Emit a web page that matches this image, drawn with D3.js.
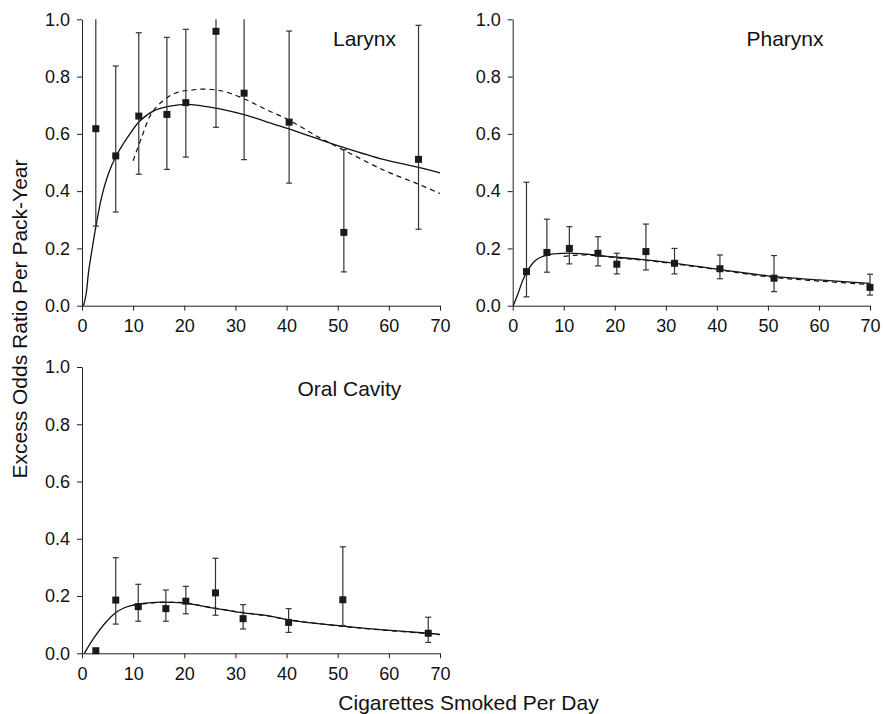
<!DOCTYPE html>
<html>
<head>
<meta charset="utf-8">
<script src="https://cdn.jsdelivr.net/npm/d3@7"></script>
<style>
  body { margin: 0; background: #fff; }
  svg { display: block; font-family: Arial, "Liberation Sans", sans-serif; }
</style>
</head>
<body>
<svg id="chart" width="883" height="714"></svg>
<script>
// cigarettes per day categories and excess odds ratio per pack-year
var larynxX = [2.7, 6.6, 11.1, 16.6, 20.3, 26.2, 31.7, 40.5, 51.2, 65.8];
var larynxY = [0.618, 0.523, 0.662, 0.668, 0.709, 0.958, 0.742, 0.641, 0.256, 0.511];
var larynxLo = [0.278, 0.327, 0.459, 0.476, 0.519, 0.623, 0.510, 0.428, 0.118, 0.267];
var larynxHi = [1.10, 0.837, 0.953, 0.937, 0.965, 1.10, 1.10, 0.959, 0.545, 0.979];

var pharynxX = [2.7, 6.7, 11.1, 16.7, 20.4, 26.1, 31.7, 40.6, 51.2, 70.0];
var pharynxY = [0.119, 0.186, 0.200, 0.183, 0.145, 0.189, 0.148, 0.129, 0.096, 0.064];
var pharynxLo = [0.031, 0.117, 0.146, 0.139, 0.111, 0.125, 0.111, 0.094, 0.049, 0.037];
var pharynxHi = [0.431, 0.302, 0.276, 0.241, 0.183, 0.285, 0.200, 0.177, 0.175, 0.110];

var oralX = [2.7, 6.6, 11.0, 16.4, 20.3, 26.1, 31.5, 40.4, 51.0, 67.7];
var oralY = [0.009, 0.186, 0.163, 0.156, 0.182, 0.211, 0.121, 0.108, 0.187, 0.070];
var oralLo = [0.009, 0.102, 0.112, 0.112, 0.138, 0.133, 0.085, 0.073, 0.097, 0.038];
var oralHi = [0.009, 0.334, 0.241, 0.221, 0.234, 0.332, 0.170, 0.156, 0.372, 0.126];

// fitted curves (solid and dashed)
var larynxSolid = [[0.3, 0], [0.8, 0.04], [1.3, 0.12], [2, 0.2], [2.7, 0.275], [3.85, 0.38], [5.15, 0.46],
  [6.6, 0.52], [9, 0.59], [11.3, 0.645], [14.3, 0.683], [17.5, 0.698], [20.2, 0.703], [23.4, 0.698],
  [26.7, 0.688], [31.9, 0.666], [35.8, 0.644], [40.5, 0.617], [45.9, 0.584], [51.1, 0.553],
  [58.9, 0.511], [65.8, 0.483], [70, 0.464]];
var larynxDash = [[10, 0.506], [11.7, 0.59], [13.6, 0.672], [15.6, 0.712], [18.2, 0.742], [21.4, 0.753],
  [24.7, 0.756], [28, 0.747], [32, 0.72], [36, 0.685], [40.5, 0.648], [45.9, 0.592], [51.1, 0.544],
  [58.9, 0.474], [65.4, 0.427], [70, 0.392]];

var pharynxSolid = [[0.1, 0], [1, 0.04], [2, 0.09], [3, 0.125], [4, 0.15], [5, 0.165], [6.7, 0.176],
  [8, 0.181], [10, 0.183], [12, 0.183], [15, 0.179], [20, 0.17], [25, 0.162], [30, 0.152],
  [40, 0.128], [50, 0.104], [60, 0.09], [70, 0.078]];
var pharynxDash = [[10, 0.172], [12, 0.176], [15, 0.177], [20, 0.168], [25, 0.16], [30, 0.15],
  [40, 0.126], [50, 0.101], [60, 0.086], [70, 0.074]];

var oralSolid = [[0.45, 0], [2.5, 0.058], [4.5, 0.105], [6.45, 0.14], [8.4, 0.16], [10.7, 0.171],
  [14.3, 0.178], [17.5, 0.178], [20.1, 0.175], [26, 0.157], [31.2, 0.142], [36.8, 0.13],
  [40.5, 0.116], [51, 0.095], [59.6, 0.081], [67.7, 0.07], [70, 0.066]];
var oralDash = [[10, 0.168], [14.3, 0.177], [17.5, 0.178], [20.1, 0.176], [26, 0.158], [31.2, 0.143],
  [36.8, 0.129], [40.5, 0.117], [51, 0.094], [59.6, 0.08], [67.7, 0.069], [70, 0.065]];

var xTicks = [0, 10, 20, 30, 40, 50, 60, 70];
var yTicks = [0, 0.2, 0.4, 0.6, 0.8, 1.0];

var panels = [
  { name: "Larynx", x: larynxX, y: larynxY, lo: larynxLo, hi: larynxHi, solid: larynxSolid, dash: larynxDash,
    left: 82, right: 440, top: 19.3, bottom: 305.7, tx: 333, ty: 45.7 },
  { name: "Pharynx", x: pharynxX, y: pharynxY, lo: pharynxLo, hi: pharynxHi, solid: pharynxSolid, dash: pharynxDash,
    left: 512.7, right: 870, top: 19.3, bottom: 305.7, tx: 746.5, ty: 45.7 },
  { name: "Oral Cavity", x: oralX, y: oralY, lo: oralLo, hi: oralHi, solid: oralSolid, dash: oralDash,
    left: 82, right: 440, top: 367, bottom: 653.3, tx: 297.5, ty: 395.7 }
];

var svg = d3.select("#chart");

function drawPanel(p) {
    var xScale = d3.scaleLinear().domain([0, 70]).range([p.left, p.right]);
    var yScale = d3.scaleLinear().domain([0, 1]).range([p.bottom, p.top]);

    var g = svg.append("g");

    var xAxis = g.append("g")
        .attr("transform", "translate(0," + p.bottom + ")")
        .call(d3.axisBottom(xScale).tickValues(xTicks).tickFormat(d3.format("d"))
            .tickSize(5).tickSizeOuter(0).tickPadding(8.5));
    var yAxis = g.append("g")
        .attr("transform", "translate(" + p.left + ",0)")
        .call(d3.axisLeft(yScale).tickValues(yTicks).tickFormat(d3.format(".1f"))
            .tickSize(5).tickSizeOuter(0).tickPadding(7));

    [xAxis, yAxis].forEach(function (a) {
        a.selectAll("text").style("font-size", "18px").style("font-family", "Arial, 'Liberation Sans', sans-serif").attr("fill", "#111");
        a.selectAll("line").attr("stroke", "#222");
        a.select(".domain").attr("stroke", "#222");
    });

    var line = d3.line()
        .x(d => xScale(d[0]))
        .y(d => yScale(d[1]))
        .curve(d3.curveCatmullRom.alpha(0.5));

    g.append("path")
        .attr("d", line(p.dash))
        .attr("fill", "none")
        .attr("stroke", "#111")
        .attr("stroke-width", 1.2)
        .attr("stroke-dasharray", "5,4");

    g.append("path")
        .attr("d", line(p.solid))
        .attr("fill", "none")
        .attr("stroke", "#111")
        .attr("stroke-width", 1.3);

    // error bars, clipped at the top of the axis
    for (var i = 0; i < p.x.length; i++) {
        var cx = xScale(p.x[i]);
        var hi = Math.min(p.hi[i], 1);
        if (p.hi[i] - p.lo[i] < 0.001) continue;
        g.append("line")
            .attr("x1", cx).attr("x2", cx)
            .attr("y1", yScale(p.lo[i])).attr("y2", yScale(hi))
            .attr("stroke", "#333").attr("stroke-width", 1.2);
        g.append("line")
            .attr("x1", cx - 3).attr("x2", cx + 3)
            .attr("y1", yScale(p.lo[i])).attr("y2", yScale(p.lo[i]))
            .attr("stroke", "#333").attr("stroke-width", 1.2);
        if (p.hi[i] <= 1) {
            g.append("line")
                .attr("x1", cx - 3).attr("x2", cx + 3)
                .attr("y1", yScale(hi)).attr("y2", yScale(hi))
                .attr("stroke", "#333").attr("stroke-width", 1.2);
        }
    }

    g.selectAll("rect.pt")
        .data(p.x.map((v, i) => [v, p.y[i]]))
        .enter().append("rect")
        .attr("class", "pt")
        .attr("x", d => xScale(d[0]) - 3.5)
        .attr("y", d => yScale(d[1]) - 3.5)
        .attr("width", 7)
        .attr("height", 7)
        .attr("fill", "#1a1a1a");

    g.append("text")
        .attr("x", p.tx)
        .attr("y", p.ty)
        .style("font-size", "21px")
        .attr("fill", "#111")
        .text(p.name);
}

panels.forEach(drawPanel);

svg.append("text")
    .attr("transform", "translate(26.5,319) rotate(-90)")
    .attr("text-anchor", "middle")
    .style("font-size", "21px")
    .attr("fill", "#111")
    .text("Excess Odds Ratio Per Pack-Year");

svg.append("text")
    .attr("x", 468.5)
    .attr("y", 709.5)
    .attr("text-anchor", "middle")
    .style("font-size", "21px")
    .attr("fill", "#111")
    .text("Cigarettes Smoked Per Day");
</script>
</body>
</html>
